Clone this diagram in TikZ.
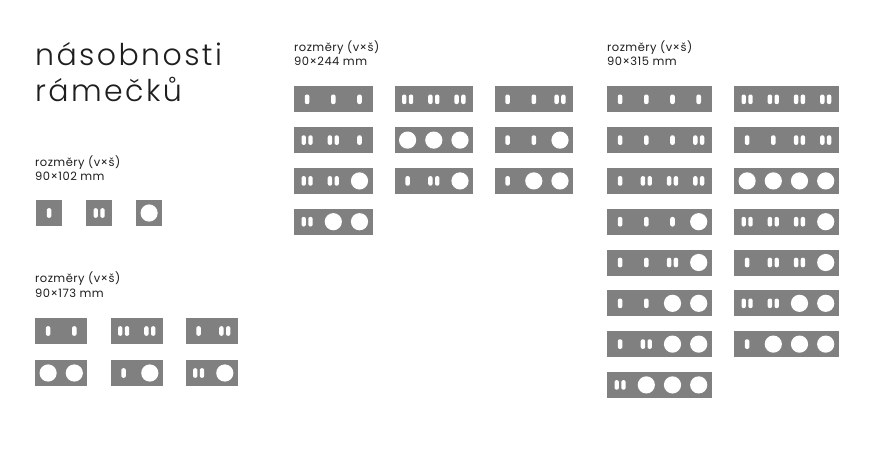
\documentclass[tikz,border=0pt]{standalone}
\usepackage{fontspec}
\setmainfont{Poppins}[LetterSpace=4]
\newfontfamily\titlefont{Poppins Light}[LetterSpace=8]
\usetikzlibrary{positioning}

\definecolor{plategray}{RGB}{128,128,128}
\definecolor{textgray}{RGB}{30,30,30}

% one module of a frame: s = single slot, d = double slot, c = round socket
\newcommand\mods{\fill[slot] (-2.3,-4.8) rectangle (2.3,4.8);}
\newcommand\modd{\fill[slot] (-5.6,-4.8) rectangle (-1.2,4.8);
  \fill[slot] (1.2,-4.8) rectangle (5.6,4.8);}
\newcommand\modc{\fill[white] (0,0) circle (8.6pt);}

% \ramecek{name}{x}{y}{modules}
\newcommand\ramecek[4]{%
  \foreach \m [count=\i] in {#4} {\xdef\ramn{\i}}
  \node[plate, minimum width=\ramn*26.2pt] (#1) at (#2,#3) {};
  \foreach \m [count=\i] in {#4} {
    \begin{scope}[shift={(#1.west)}, xshift=\i*26.2pt-13.1pt]
      \csname mod\m\endcsname
    \end{scope}
  }
}

\begin{document}
\begin{tikzpicture}[x=1pt, y=-1pt,
    plate/.style={fill=plategray, anchor=north west, inner sep=0, outer sep=0, minimum height=26pt},
    slot/.style={fill=white, rounded corners=2pt},
    titletext/.style={anchor=base west, inner sep=0, text=textgray, font=\titlefont\fontsize{30}{35}\selectfont},
    sizetext/.style={anchor=base west, inner sep=0, text=textgray, font=\fontsize{11.5}{14}\selectfont}]
        \useasboundingbox (0,0) rectangle (876,456);

        \node[titletext] (title1) at (35,65) {násobnosti};
        \node[titletext] (title2) at (35,101) {rámečků};

        % 90x102
        \node[sizetext] (lbl102a) at (35,166.5) {rozměry (v×š)};
        \node[sizetext] (lbl102b) at (35,180.5) {90×102 mm};
        \ramecek{r102a}{36}{200}{s}
        \ramecek{r102b}{86}{200}{d}
        \ramecek{r102c}{136}{200}{c}

        % 90x173
        \node[sizetext] (lbl173a) at (35,282.5) {rozměry (v×š)};
        \node[sizetext] (lbl173b) at (35,297) {90×173 mm};
        \ramecek{r173a}{35}{318}{s,s}
        \ramecek{r173b}{110.5}{318}{d,d}
        \ramecek{r173c}{185.5}{318}{s,d}
        \ramecek{r173d}{35}{360}{c,c}
        \ramecek{r173e}{110.5}{360}{s,c}
        \ramecek{r173f}{185.5}{360}{d,c}

        % 90x244
        \node[sizetext] (lbl244a) at (294,51) {rozměry (v×š)};
        \node[sizetext] (lbl244b) at (294,65.5) {90×244 mm};
        \ramecek{r244a}{294}{86.3}{s,s,s}
        \ramecek{r244b}{394.5}{86.3}{d,d,d}
        \ramecek{r244c}{494.5}{86.3}{s,s,d}
        \ramecek{r244d}{294}{127.1}{d,d,s}
        \ramecek{r244e}{394.5}{127.1}{c,c,c}
        \ramecek{r244f}{494.5}{127.1}{s,s,c}
        \ramecek{r244g}{294}{167.9}{d,d,c}
        \ramecek{r244h}{394.5}{167.9}{s,d,c}
        \ramecek{r244i}{494.5}{167.9}{s,c,c}
        \ramecek{r244j}{294}{208.7}{d,c,c}

        % 90x315
        \node[sizetext] (lbl315a) at (607,51) {rozměry (v×š)};
        \node[sizetext] (lbl315b) at (607,65.5) {90×315 mm};
        \ramecek{r315a}{607}{86.3}{s,s,s,s}
        \ramecek{r315b}{607}{127.1}{s,s,s,d}
        \ramecek{r315c}{607}{167.9}{s,d,d,d}
        \ramecek{r315d}{607}{208.7}{s,s,s,c}
        \ramecek{r315e}{607}{249.5}{s,s,d,c}
        \ramecek{r315f}{607}{290.3}{s,s,c,c}
        \ramecek{r315g}{607}{331.1}{s,d,c,c}
        \ramecek{r315h}{607}{371.9}{d,c,c,c}
        \ramecek{r315i}{734}{86.3}{d,d,d,d}
        \ramecek{r315j}{734}{127.1}{s,s,d,d}
        \ramecek{r315k}{734}{167.9}{c,c,c,c}
        \ramecek{r315l}{734}{208.7}{d,d,d,c}
        \ramecek{r315m}{734}{249.5}{s,d,d,c}
        \ramecek{r315n}{734}{290.3}{d,d,c,c}
        \ramecek{r315o}{734}{331.1}{s,c,c,c}
\end{tikzpicture}
\end{document}
